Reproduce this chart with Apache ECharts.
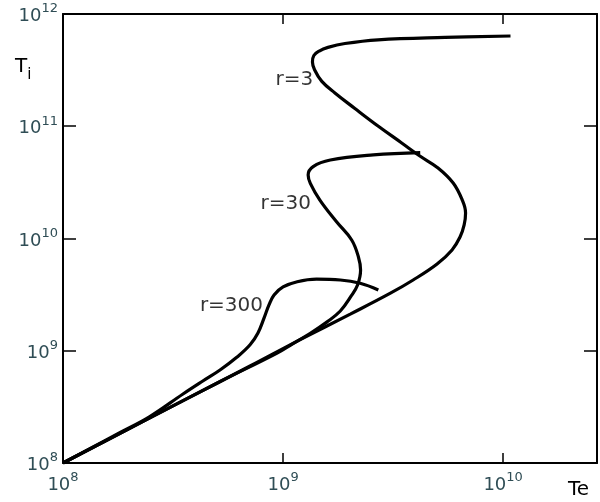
<!DOCTYPE html>
<html>
<head>
<meta charset="utf-8">
<script src="https://cdn.jsdelivr.net/npm/echarts@6/dist/echarts.min.js"></script>
<style>
  html, body { margin: 0; padding: 0; background: #fff; }
  #main { width: 600px; height: 502px; }
</style>
</head>
<body>
<div id="main"></div>
<script>
// curve r=3 (Te, Ti pairs in order along the curve)
var r3Te = [1.00e8, 2.48e8, 4.20e8, 7.08e8, 1.19e9, 2.02e9, 3.06e9, 3.90e9, 5.01e9, 5.86e9, 6.37e9, 6.65e9, 6.75e9, 6.52e9, 5.93e9, 5.06e9, 4.20e9, 3.46e9, 2.71e9, 2.12e9, 1.72e9, 1.50e9, 1.39e9, 1.36e9, 1.38e9, 1.46e9, 1.60e9, 1.91e9, 2.70e9, 5.45e9, 1.08e10];
var r3Ti = [1.00e8, 2.52e8, 4.30e8, 7.31e8, 1.25e9, 2.12e9, 3.24e9, 4.27e9, 5.93e9, 7.91e9, 1.03e10, 1.32e10, 1.69e10, 2.20e10, 3.12e10, 4.25e10, 5.40e10, 7.10e10, 1.00e11, 1.44e11, 1.98e11, 2.51e11, 3.19e11, 3.73e11, 4.27e11, 4.68e11, 5.04e11, 5.46e11, 5.89e11, 6.19e11, 6.37e11];

// curve r=30
var r30Te = [1.00e8, 2.48e8, 5.18e8, 9.35e8, 1.11e9, 1.33e9, 1.58e9, 1.82e9, 2.04e9, 2.18e9, 2.25e9, 2.20e9, 2.05e9, 1.75e9, 1.47e9, 1.33e9, 1.30e9, 1.37e9, 1.64e9, 2.57e9, 4.20e9];
var r30Ti = [1.00e8, 2.52e8, 5.32e8, 9.48e8, 1.16e9, 1.43e9, 1.80e9, 2.26e9, 3.08e9, 3.85e9, 5.24e9, 6.84e9, 9.70e9, 1.41e10, 2.20e10, 3.10e10, 3.68e10, 4.37e10, 5.00e10, 5.55e10, 5.81e10];

// curve r=300
var r300Te = [1.00e8, 1.82e8, 2.48e8, 3.51e8, 4.32e8, 5.17e8, 6.18e8, 7.08e8, 7.69e8, 8.20e8, 8.63e8, 9.10e8, 1.00e9, 1.16e9, 1.42e9, 1.82e9, 2.24e9, 2.71e9];
var r300Ti = [1.00e8, 1.87e8, 2.59e8, 4.12e8, 5.38e8, 6.74e8, 8.79e8, 1.13e9, 1.44e9, 1.96e9, 2.56e9, 3.14e9, 3.70e9, 4.12e9, 4.34e9, 4.27e9, 3.99e9, 3.48e9];

// curve labels (anchored at their right edge)
var labelText = ['r=3', 'r=30', 'r=300'];
var labelTe = [1.37e9, 1.34e9, 8.11e8];
var labelTi = [2.58e11, 2.05e10, 2.53e9];

var teMin = 1e8, teMax = 2.67e10;
var tiMin = 1e8, tiMax = 1e12;

function pairs(xs, ys) {
  return xs.map(function (x, i) { return [x, ys[i]]; });
}

function powLabel(value) {
  var e = Math.log10(value);
  var n = Math.round(e);
  if (Math.abs(e - n) > 0.01) return '';
  return '{b|10}{s|' + n + '}';
}

var labelRich = {
  b: { fontFamily: 'DejaVu Sans', fontSize: 18, color: '#2f4d55', lineHeight: 23, verticalAlign: 'bottom' },
  s: { fontFamily: 'DejaVu Sans', fontSize: 13, color: '#2f4d55', lineHeight: 23, verticalAlign: 'top' }
};

var chart = echarts.init(document.getElementById('main'));

function lineSeries(data) {
  return {
    type: 'line',
    data: data,
    smooth: 0.4,
    smoothMonotone: 'none',
    showSymbol: false,
    symbol: 'none',
    silent: true,
    lineStyle: { color: '#000', width: 3.2 }
  };
}

var option = {
  animation: false,
  backgroundColor: '#fff',
  grid: { left: 63, right: 3, top: 14, bottom: 39 },
  xAxis: [
    {
      type: 'log', logBase: 10, min: teMin, max: teMax, position: 'bottom',
      axisLine: { lineStyle: { color: '#000', width: 2 } },
      axisTick: { inside: true, length: 10, lineStyle: { color: '#000', width: 1.5 } },
      axisLabel: { margin: 8, formatter: powLabel, rich: labelRich, showMaxLabel: false },
      splitLine: { show: false }
    },
    {
      type: 'log', logBase: 10, min: teMin, max: teMax, position: 'top',
      axisLine: { lineStyle: { color: '#000', width: 2 } },
      axisTick: { inside: true, length: 10, lineStyle: { color: '#000', width: 1.5 } },
      axisLabel: { show: false },
      splitLine: { show: false }
    }
  ],
  yAxis: [
    {
      type: 'log', logBase: 10, min: tiMin, max: tiMax, position: 'left',
      axisLine: { lineStyle: { color: '#000', width: 2 } },
      axisTick: { inside: true, length: 13, lineStyle: { color: '#000', width: 1.5 } },
      axisLabel: { margin: 5, formatter: powLabel, rich: labelRich },
      splitLine: { show: false }
    },
    {
      type: 'log', logBase: 10, min: tiMin, max: tiMax, position: 'right',
      axisLine: { lineStyle: { color: '#000', width: 2 } },
      axisTick: { inside: true, length: 13, lineStyle: { color: '#000', width: 1.5 } },
      axisLabel: { show: false },
      splitLine: { show: false }
    }
  ],
  series: [
    lineSeries(pairs(r3Te, r3Ti)),
    lineSeries(pairs(r30Te, r30Ti)),
    lineSeries(pairs(r300Te, r300Ti)),
    {
      type: 'scatter',
      symbolSize: 0,
      silent: true,
      data: labelText.map(function (t, i) { return { name: t, value: [labelTe[i], labelTi[i]] }; }),
      label: {
        show: true,
        position: 'left',
        distance: 0,
        formatter: '{b}',
        fontFamily: 'DejaVu Sans',
        fontSize: 20,
        color: '#000'
      }
    }
  ],
  graphic: [
    {
      type: 'text', left: 15, top: 57,
      style: {
        text: '{t|T}{i|i}',
        rich: {
          t: { fontFamily: 'DejaVu Sans', fontSize: 20, color: '#000', lineHeight: 26, verticalAlign: 'top' },
          i: { fontFamily: 'DejaVu Sans', fontSize: 15, color: '#000', lineHeight: 26, verticalAlign: 'bottom' }
        }
      }
    },
    {
      type: 'text', left: 568, top: 480,
      style: { text: 'Te', fontFamily: 'DejaVu Sans', fontSize: 20, fill: '#000' }
    }
  ]
};

chart.setOption(option);
</script>
</body>
</html>
